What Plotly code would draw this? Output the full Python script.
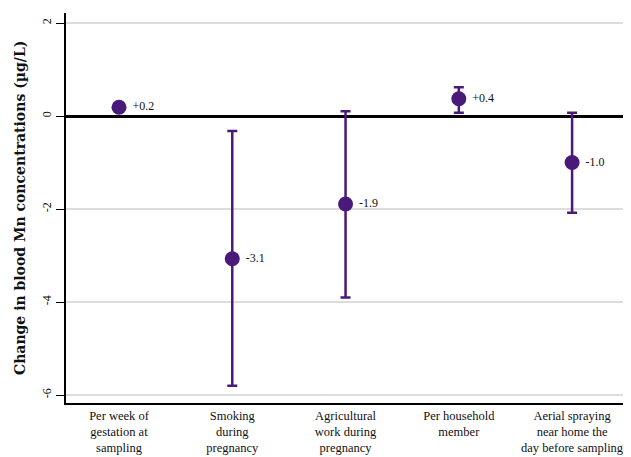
import plotly.graph_objects as go

categories = [
    "Per week of<br>gestation at<br>sampling",
    "Smoking<br>during<br>pregnancy",
    "Agricultural<br>work during<br>pregnancy",
    "Per household<br>member",
    "Aerial spraying<br>near home the<br>day before sampling",
]
estimates = [0.19, -3.07, -1.89, 0.37, -1.0]
upper = [0.21, -0.32, 0.10, 0.62, 0.07]
lower = [0.17, -5.80, -3.90, 0.07, -2.08]
labels = ["+0.2", "-3.1", "-1.9", "+0.4", "-1.0"]
y_title = "Change in blood Mn concentrations (µg/L)"

purple = "#4a1a7a"
font_family = "Liberation Serif, Times New Roman, serif"

err_plus = [u - e for u, e in zip(upper, estimates)]
err_minus = [e - l for e, l in zip(estimates, lower)]

fig = go.Figure()
fig.add_trace(go.Scatter(
    x=categories, y=estimates,
    mode="markers+text",
    marker=dict(color=purple, size=15),
    text=[" " + t for t in labels],
    textposition="middle right",
    textfont=dict(family=font_family, size=12, color="#111111"),
    error_y=dict(type="data", symmetric=False, array=err_plus, arrayminus=err_minus,
                 color=purple, thickness=2.5, width=5),
    showlegend=False,
    cliponaxis=False,
))

# page has an 8px body margin; compensate so the plot sits where the reference's does
fig.update_layout(
    width=623, height=449,
    margin=dict(l=58, r=0, t=5, b=54),
    plot_bgcolor="white", paper_bgcolor="white",
    font=dict(family=font_family, size=12, color="#111111"),
)
fig.update_xaxes(
    type="category", range=[-0.468, 4.52], automargin=False,
    showgrid=False, showline=True, linecolor="black", linewidth=1.5,
    ticks="", tickfont=dict(size=12.5), zeroline=False,
)
fig.update_yaxes(
    range=[-6.17, 2.215], automargin=False,
    tickvals=[2, 0, -2, -4, -6], ticktext=["2", "0", "-2", "-4", "-6"],
    tickangle=-90,
    showgrid=True, gridcolor="#dddddd", gridwidth=2,
    zeroline=True, zerolinecolor="black", zerolinewidth=2.5,
    showline=True, linecolor="black", linewidth=1.5,
    ticks="outside", ticklen=8, tickcolor="black",
    tickfont=dict(size=12),
)
fig.add_annotation(
    text="<b>" + y_title + "</b>",
    x=0, xref="paper", xanchor="center", xshift=-46,
    y=0.5, yref="paper", yanchor="middle",
    textangle=-90, showarrow=False,
    font=dict(family="DejaVu Serif, serif", size=14, color="#111111"),
)

fig.write_html("out.html")
